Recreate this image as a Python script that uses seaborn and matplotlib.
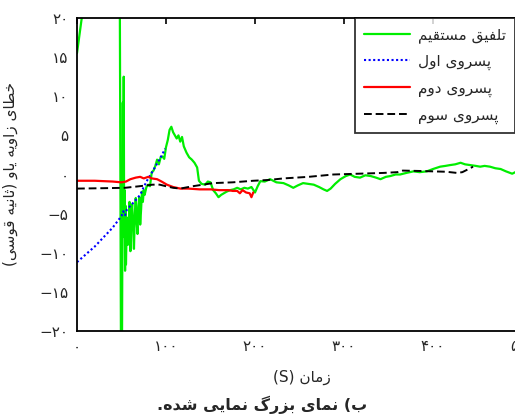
import matplotlib
matplotlib.use("Agg")
import matplotlib.pyplot as plt
import seaborn as sns
import numpy as np
import pandas as pd

# ---------------- data ----------------
green_x = [0, 3, 6, 10, 48, 49.5, 50.5, 51.5, 52, 52.5, 53, 53.5, 54, 54.5, 55, 56, 57, 58, 59, 60,
           61, 62, 63, 64, 65, 66, 67, 68, 69, 70, 71, 72, 73, 74, 75, 76, 78, 80, 82, 84,
           86, 88, 90, 92, 94, 96, 98, 100, 102, 104, 106, 108, 110, 112, 114, 116, 118, 120,
           123, 126, 129, 132, 135, 137, 140, 144, 147, 150, 153, 156, 159, 162, 165, 168,
           172, 176, 180, 184, 188, 192, 196, 200, 203, 206, 211, 217, 224, 232, 238, 243,
           248, 254, 260, 266, 272, 277, 281, 285, 290, 296, 302, 307, 312, 318, 324, 330,
           336, 341, 347, 352, 358, 363, 370, 378, 385, 393, 400, 408, 414, 419, 425, 431,
           436, 442, 448, 453, 458, 464, 470, 476, 482, 489, 496, 505]
green_y = [15.5, 18, 20.5, 24, 26, -26, -24, 9.2, -6, 12.5, -8, -2, -12.3, -4, -11.5, -5.5, -9, -6.8, -3.5, -9.8,
           -5, -3.8, -7, -9.5, -5, -3, -6, -7.6, -4, -2.9, -6.4, -4.5, -2.2, -3.5, -2, -2.6, -1.6, -1.3, -1.5, 0.3,
           0.5, 1.1, 1.9, 1.3, 2.2, 2.3, 2.0, 3.5, 4.4, 5.7, 6.1, 5.4, 5.0, 4.6, 5.0, 4.2, 4.8, 3.6,
           2.8, 2.2, 1.9, 1.5, 0.9, -0.8, -1.2, -1.3, -0.9, -1.0, -2.0, -2.4, -2.9, -2.6, -2.4, -2.2,
           -2.0, -1.9, -1.7, -1.9, -1.7, -1.8, -1.6, -2.3, -1.5, -0.85, -0.9, -0.6, -1.0, -1.1, -1.4, -1.7,
           -1.4, -1.1, -1.2, -1.3, -1.6, -1.9, -2.1, -1.8, -1.2, -0.6, -0.2, 0.0, -0.3, -0.4, -0.1, -0.2,
           -0.4, -0.6, -0.3, -0.2, 0.0, 0.0, 0.2, 0.4, 0.3, 0.4, 0.7, 1.0, 1.1, 1.2, 1.3, 1.5,
           1.3, 1.2, 1.1, 1.0, 1.1, 1.0, 0.8, 0.7, 0.4, 0.1, 0.5, 0.6]

blue_x = [0, 10, 20, 30, 40, 48, 50, 52, 54, 56, 60, 65, 71, 75, 80, 85, 90, 95, 99]
blue_y = [-11.2, -10.2, -9.2, -8.0, -6.8, -5.6, -5.3, -4.7, -5.2, -4.5, -4.0, -3.4, -2.6, -1.6, -0.5, 0.4, 1.4, 2.4, 3.3]

red_x = [0, 20, 40, 50, 55, 60, 66, 71, 75, 80, 84, 90, 95, 101, 108, 116, 125, 138, 150, 160,
         170, 175, 180, 183, 186, 190, 194, 196, 198]
red_y = [-0.8, -0.8, -0.9, -1.0, -0.9, -0.6, -0.4, -0.3, -0.5, -0.3, -0.5, -0.6, -0.9, -1.3, -1.6, -1.8, -1.8, -1.9, -1.9, -2.0,
         -2.0, -2.1, -2.1, -2.4, -2.0, -2.3, -2.4, -2.9, -2.3]

black_x = [0, 30, 54, 70, 85, 93, 100, 108, 116, 130, 153, 175, 198, 215, 232, 260, 288, 316, 344, 360,
           366, 385, 400, 415, 427, 433, 440, 445]
black_y = [-1.8, -1.75, -1.7, -1.5, -1.3, -1.3, -1.5, -1.7, -1.8, -1.5, -1.1, -1.0, -0.8, -0.7, -0.5, -0.3, 0.0, 0.1, 0.2, 0.3,
           0.5, 0.45, 0.4, 0.35, 0.2, 0.3, 0.7, 1.0]

series_names = ["تلفیق مستقیم", "پسروی اول", "پسروی دوم", "پسروی سوم"]
x_ticks = [0, 100, 200, 300, 400, 500]
y_ticks = [-20, -15, -10, -5, 0, 5, 10, 15, 20]
x_label_text = "زمان"
y_label_text = "خطای زاویه یاو (ثانیه قوسی)"
caption_text = "ب) نمای بزرگ نمایی شده."

# ---------------- minimal Persian shaping (no external libs) ----------------
DUAL = {
    'ب': (0xFE8F, 0xFE90, 0xFE91, 0xFE92), 'پ': (0xFB56, 0xFB57, 0xFB58, 0xFB59),
    'ت': (0xFE95, 0xFE96, 0xFE97, 0xFE98), 'ث': (0xFE99, 0xFE9A, 0xFE9B, 0xFE9C),
    'خ': (0xFEA5, 0xFEA6, 0xFEA7, 0xFEA8), 'س': (0xFEB1, 0xFEB2, 0xFEB3, 0xFEB4),
    'ش': (0xFEB5, 0xFEB6, 0xFEB7, 0xFEB8), 'ط': (0xFEC1, 0xFEC2, 0xFEC3, 0xFEC4),
    'ف': (0xFED1, 0xFED2, 0xFED3, 0xFED4), 'ق': (0xFED5, 0xFED6, 0xFED7, 0xFED8),
    'ل': (0xFEDD, 0xFEDE, 0xFEDF, 0xFEE0), 'م': (0xFEE1, 0xFEE2, 0xFEE3, 0xFEE4),
    'ن': (0xFEE5, 0xFEE6, 0xFEE7, 0xFEE8), 'ه': (0xFEE9, 0xFEEA, 0xFEEB, 0xFEEC),
    'ی': (0xFBFC, 0xFBFD, 0xFBFE, 0xFBFF), 'گ': (0xFB92, 0xFB93, 0xFB94, 0xFB95),
    'ک': (0xFB8E, 0xFB8F, 0xFB90, 0xFB91),
}
RIGHT = {
    'ا': (0xFE8D, 0xFE8E), 'د': (0xFEA9, 0xFEAA), 'ر': (0xFEAD, 0xFEAE),
    'ز': (0xFEAF, 0xFEB0), 'و': (0xFEED, 0xFEEE),
}


def shape(s):
    out = []
    for i, c in enumerate(s):
        prev = s[i - 1] if i > 0 else ''
        nxt = s[i + 1] if i + 1 < len(s) else ''
        jp = prev in DUAL and (c in DUAL or c in RIGHT)
        if c in DUAL:
            jn = nxt in DUAL or nxt in RIGHT
            f = DUAL[c][3 if (jp and jn) else 1 if jp else 2 if jn else 0]
            out.append(chr(f))
        elif c in RIGHT:
            out.append(chr(RIGHT[c][1 if jp else 0]))
        else:
            out.append(c)
    return out


def rtl(s):
    chars = shape(s)[::-1]
    swap = {'(': ')', ')': '('}
    return ''.join(swap.get(c, c) for c in chars)


PDIG = '۰۱۲۳۴۵۶۷۸۹'


def pnum(v):
    s = ''.join(PDIG[int(d)] for d in str(abs(int(v))))
    return ('−' + s) if v < 0 else s


# ---------------- figure ----------------
sns.set_theme(style="white")
plt.rcParams['font.family'] = ['DejaVu Sans']
plt.rcParams['xtick.direction'] = 'in'
plt.rcParams['ytick.direction'] = 'in'

fig = plt.figure(figsize=(5.15, 4.17), dpi=100)
ax = fig.add_axes([77 / 515, 86 / 417, 445 / 515, 313 / 417])

sns.lineplot(x=green_x, y=green_y, ax=ax, color='#00ee00', linewidth=1.6,
             estimator=None, sort=False, label=rtl(series_names[0]))
sns.lineplot(x=blue_x, y=blue_y, ax=ax, color='#0000ff', linewidth=1.5,
             linestyle=(0, (1, 1.2)), estimator=None, sort=False, label=rtl(series_names[1]))
sns.lineplot(x=red_x, y=red_y, ax=ax, color='#ff0000', linewidth=1.6,
             estimator=None, sort=False, label=rtl(series_names[2]))
sns.lineplot(x=black_x, y=black_y, ax=ax, color='black', linewidth=1.4,
             linestyle=(0, (4, 2)), estimator=None, sort=False, label=rtl(series_names[3]))

ax.set_xlim(0, 500)
ax.set_ylim(-20, 20)
ax.set_xticks(x_ticks)
ax.set_xticklabels([pnum(v) for v in x_ticks], fontsize=11)
ax.set_yticks(y_ticks)
ax.set_yticklabels([pnum(v) for v in y_ticks], fontsize=11)
ax.tick_params(axis='both', which='both', top=True, right=True, length=4, width=1.2,
               color='black', pad=6)
for sp in ax.spines.values():
    sp.set_color('black')
    sp.set_linewidth(1.3)

ax.set_xlabel('(S) ' + rtl(x_label_text), fontsize=11)
ax.xaxis.set_label_coords((302 - 77) / 445, -0.125)
ax.set_ylabel(rtl(y_label_text), fontsize=11)
ax.yaxis.set_label_coords((18 - 77) / 445, 0.5)

leg = ax.legend(loc='upper right', bbox_to_anchor=((515 - 77) / 445, 1.0), borderaxespad=0.0,
                frameon=True, fancybox=False, fontsize=11, labelspacing=0.7,
                handlelength=3.0, handletextpad=0.5, borderpad=0.6)
leg.get_frame().set_edgecolor('black')
leg.get_frame().set_linewidth(1.3)

fig.text(262 / 515, 1 - 405 / 417, rtl(caption_text), ha='center', va='center',
         fontsize=11.5, fontweight='bold')

fig.savefig('out.png', dpi=100)
